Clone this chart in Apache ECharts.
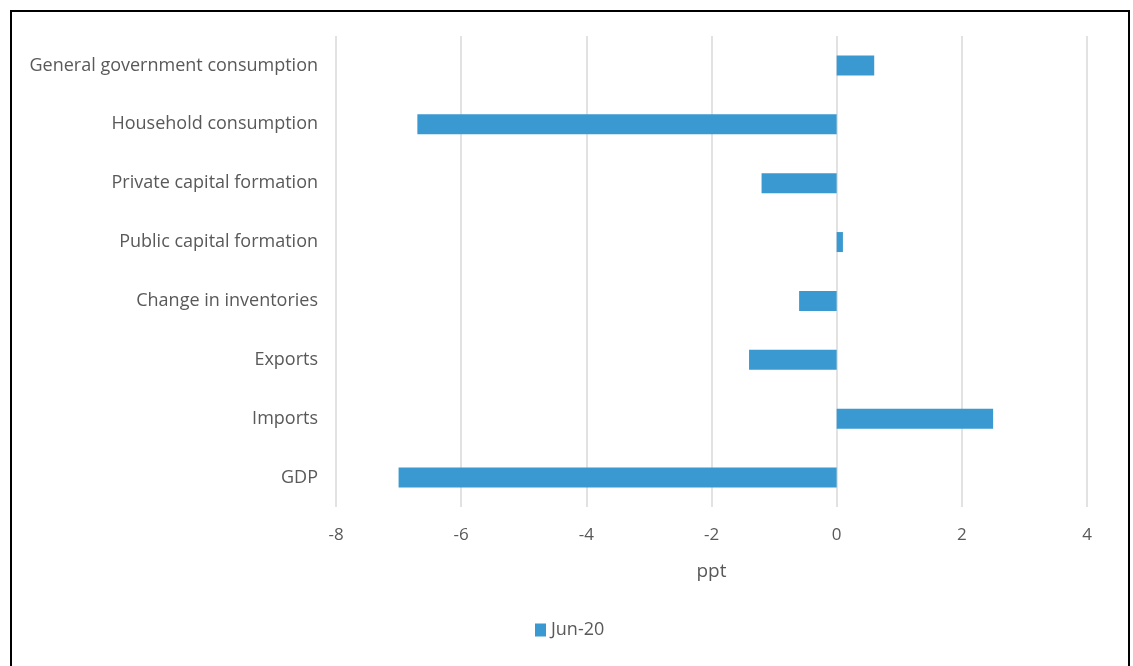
<!DOCTYPE html>
<html>
<head>
<meta charset="utf-8">
<script src="https://cdn.jsdelivr.net/npm/echarts@6/dist/echarts.min.js"></script>
<style>
  html, body { margin: 0; padding: 0; background: #fff; }
  #chart { width: 1133px; height: 666px; }
</style>
</head>
<body>
<div id="chart"></div>
<script>
// categories, top to bottom as drawn
var categories = [
  'General government consumption',
  'Household consumption',
  'Private capital formation',
  'Public capital formation',
  'Change in inventories',
  'Exports',
  'Imports',
  'GDP'
];
var jun20 = [0.6, -6.7, -1.2, 0.1, -0.6, -1.4, 2.5, -7.0];
var seriesName = 'Jun-20';
var axisName = 'ppt';

var chart = echarts.init(document.getElementById('chart'));
var font = '"Open Sans", "Noto Sans", sans-serif';

chart.setOption({
  animation: false,
  textStyle: { fontFamily: font },
  graphic: [{
    type: 'rect',
    shape: { x: 11, y: 11, width: 1118, height: 700 },
    style: { fill: 'none', stroke: '#000', lineWidth: 2 }
  }],
  grid: { left: 336, right: 46, top: 36, bottom: 159 },
  legend: {
    data: [seriesName],
    left: 530,
    top: 616,
    icon: 'rect',
    itemWidth: 11,
    itemHeight: 13,
    itemGap: 5,
    textStyle: { color: '#595959', fontSize: 18, fontFamily: font }
  },
  xAxis: {
    type: 'value',
    min: -8,
    max: 4,
    interval: 2,
    name: axisName,
    nameLocation: 'middle',
    nameGap: 55,
    nameTextStyle: { color: '#595959', fontSize: 19, fontFamily: font },
    axisLine: { show: false },
    axisTick: { show: false },
    axisLabel: { color: '#595959', fontSize: 17, margin: 20, fontFamily: font },
    splitLine: { lineStyle: { color: '#d9d9d9', width: 1.5 } }
  },
  yAxis: {
    type: 'category',
    data: categories,
    inverse: true,
    axisLine: { show: false },
    axisTick: { show: false },
    axisLabel: { color: '#595959', fontSize: 18, margin: 18, fontFamily: font }
  },
  series: [{
    name: seriesName,
    type: 'bar',
    data: jun20,
    barWidth: 20,
    itemStyle: { color: '#3a99d0' }
  }]
});
</script>
</body>
</html>
